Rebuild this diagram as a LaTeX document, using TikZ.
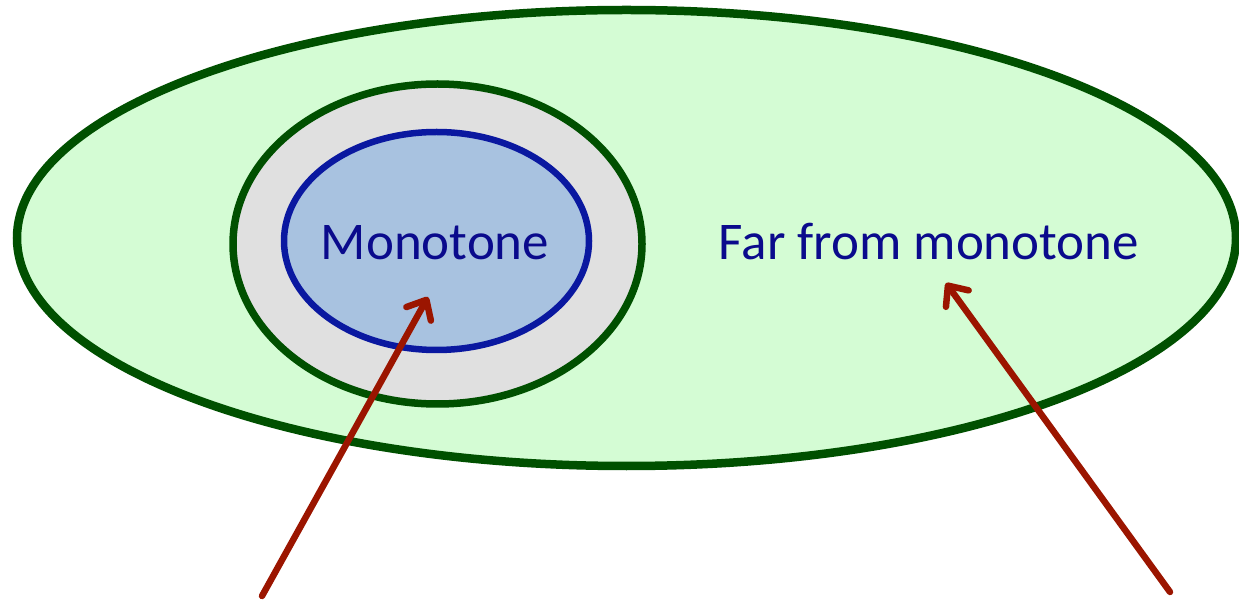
\documentclass[tikz,border=0pt]{standalone}
\usepackage{fontspec}
\setmainfont{Carlito}
\usetikzlibrary{arrows.meta,shapes.geometric}
\definecolor{outerfill}{HTML}{D4FCD4}
\definecolor{darkgreen}{HTML}{005000}
\definecolor{grayfill}{HTML}{E0E0E0}
\definecolor{bluefill}{HTML}{A8C2E0}
\definecolor{bluestroke}{HTML}{0A18A0}
\definecolor{navytext}{HTML}{0A0A8C}
\definecolor{arrowred}{HTML}{9B1500}
\tikzset{
  region/.style={ellipse, inner sep=0pt},
  label/.style={text=navytext, font=\fontsize{53}{60}\selectfont},
  pointer/.style={draw=arrowred, line width=6.5pt, line cap=round,
    -{Straight Barb[length=16pt, width=28pt, line cap=round, line join=round]}}
}
\begin{document}
\begin{tikzpicture}[x=1pt,y=1pt]
\useasboundingbox (0,0) rectangle (1239,600);
% outer ellipse
\node[region, draw=darkgreen, fill=outerfill, line width=8.5pt,
  minimum width=1219pt, minimum height=456pt] (outer) at (626.5,362) {};
% gray ellipse
\node[region, draw=darkgreen, fill=grayfill, line width=7.5pt,
  minimum width=409pt, minimum height=320pt] (mid) at (437.5,356) {};
% blue ellipse
\node[region, draw=bluestroke, fill=bluefill, line width=6.5pt,
  minimum width=305pt, minimum height=218pt] (inner) at (436.5,359) {};
% texts
\node[label] (mono) at (435,357) {Monotone};
\node[label] (far) at (929,358) {Far from monotone};
% arrow anchors
\coordinate (a1s) at (262,4);
\coordinate (a1e) at (428,303);
\coordinate (a2s) at (1170,8);
\coordinate (a2e) at (946,317);
\draw[pointer] (a1s) -- (a1e);
\draw[pointer] (a2s) -- (a2e);
\end{tikzpicture}
\end{document}
